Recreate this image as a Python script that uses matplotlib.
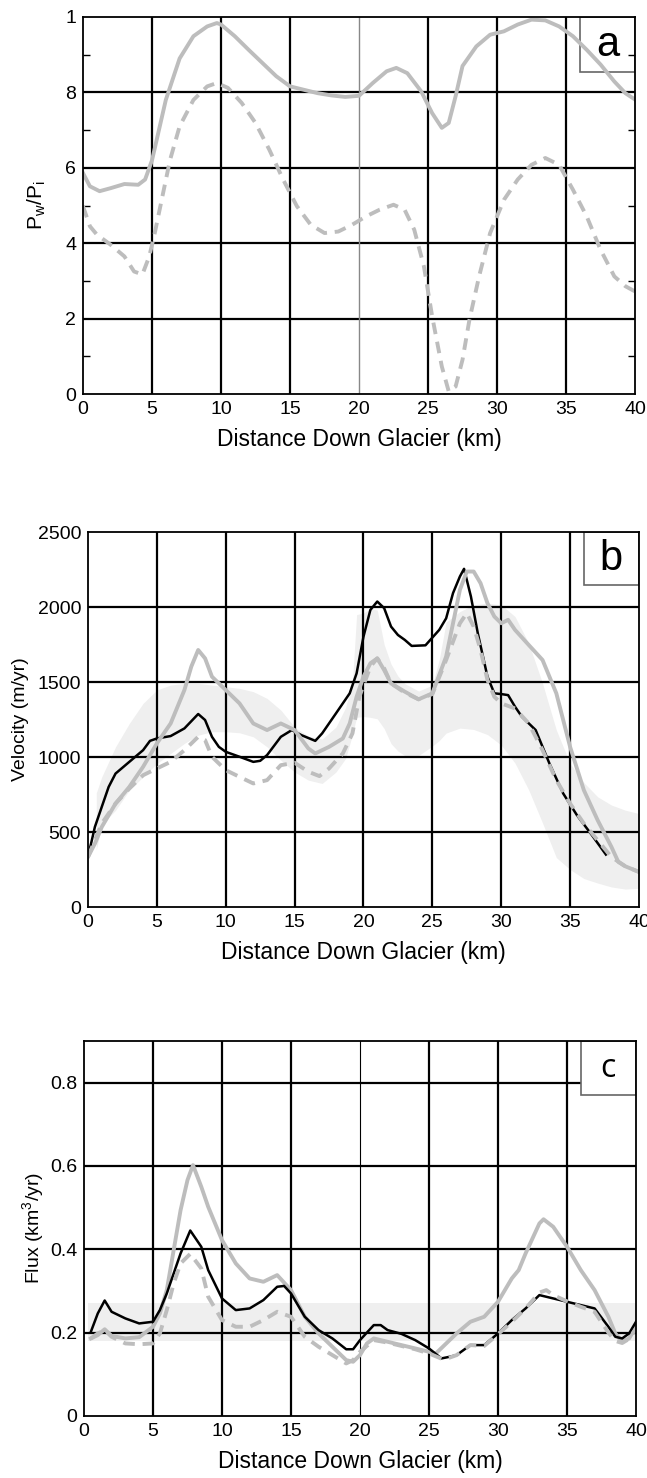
import matplotlib
matplotlib.use("Agg")
import matplotlib.pyplot as plt
from matplotlib.patches import Rectangle

plt.rcParams['font.family'] = ['Liberation Sans', 'DejaVu Sans']
plt.rcParams['mathtext.fontset'] = 'custom'
plt.rcParams['mathtext.rm'] = 'Liberation Sans'
plt.rcParams['mathtext.it'] = 'Liberation Sans'

# ---------------- Panel a: Pw/Pi ----------------
a_x_solid = [0, 0.5, 1.2, 2, 3, 4, 4.5, 5, 5.5, 6, 7, 8, 9, 9.7, 10, 11, 12, 13, 14, 15,
             16, 17, 18, 19, 20, 21, 22, 22.7, 23.5, 24.5, 25.3, 26, 26.5, 27, 27.5, 28.5,
             29.5, 30.5, 31.5, 32.5, 33.5, 34.5, 35.5, 36.5, 37.5, 38.5, 39.3, 40]
a_solid = [0.586, 0.551, 0.538, 0.546, 0.557, 0.555, 0.569, 0.62, 0.70, 0.78, 0.89, 0.949,
           0.975, 0.984, 0.98, 0.949, 0.913, 0.878, 0.843, 0.816, 0.807, 0.798, 0.792, 0.788,
           0.791, 0.825, 0.856, 0.865, 0.851, 0.803, 0.745, 0.706, 0.719, 0.79, 0.87, 0.922,
           0.953, 0.962, 0.98, 0.993, 0.991, 0.975, 0.949, 0.913, 0.874, 0.829, 0.798, 0.781]
a_x_dash = [0, 0.5, 1, 2, 3, 3.7, 4.3, 4.8, 5.2, 5.7, 6.3, 7, 8, 9, 9.7, 10.5, 11.5, 12.5,
            13.5, 14.5, 15.5, 16.5, 17.5, 18.5, 19.5, 20.5, 21.5, 22.5, 23.3, 24, 24.7, 25.3,
            26, 26.5, 27, 27.5, 28, 28.7, 29.5, 30.5, 31.5, 32.5, 33.5, 34.5, 35.5, 36.5,
            37.5, 38.5, 39.3, 40]
a_dash = [0.498, 0.445, 0.423, 0.396, 0.365, 0.325, 0.317, 0.365, 0.427, 0.515, 0.62, 0.71,
          0.78, 0.816, 0.825, 0.812, 0.772, 0.719, 0.648, 0.569, 0.498, 0.449, 0.427, 0.431,
          0.449, 0.471, 0.489, 0.502, 0.489, 0.436, 0.339, 0.206, 0.073, 0.007, 0.02, 0.091,
          0.197, 0.312, 0.427, 0.515, 0.569, 0.608, 0.626, 0.608, 0.542, 0.471, 0.383, 0.312,
          0.286, 0.272]
a_yticks = [0, 0.2, 0.4, 0.6, 0.8, 1.0]
a_yticklabels = ['0', '2', '4', '6', '8', '1']

# ---------------- Panel b: Velocity ----------------
b_x_black = [0, 0.5, 1, 1.5, 2, 3, 4, 4.5, 5, 6, 7, 8, 8.5, 9, 9.5, 10, 11, 12, 12.5, 13,
             14, 14.8, 15.5, 16.5, 17, 18, 19, 19.5, 20, 20.5, 21, 21.5, 22, 22.5, 23, 23.5,
             24.5, 25.5, 26, 26.5, 27, 27.3, 27.8, 28.3, 29, 29.5, 30, 30.5, 31, 31.5, 32.5,
             33.5, 34.5, 35.5, 36.5, 37.6]
b_black = [334, 534, 668, 801, 890, 968, 1046, 1108, 1124, 1140, 1191, 1287, 1247, 1135, 1068,
           1035, 1002, 968, 975, 1013, 1135, 1180, 1146, 1108, 1158, 1291, 1425, 1558, 1803,
           1981, 2037, 1993, 1870, 1814, 1781, 1741, 1745, 1848, 1925, 2093, 2204, 2255, 2070,
           1825, 1536, 1425, 1420, 1413, 1336, 1269, 1180, 957, 757, 612, 490, 350]
b_x_gray = [0, 0.5, 1, 2, 3, 4, 5, 6, 7, 7.5, 8, 8.5, 9, 10, 11, 12, 13, 14, 15, 16, 16.5,
            17.5, 18.5, 19, 19.5, 20, 20.5, 21, 21.5, 22, 23, 24, 25, 26, 26.5, 27, 27.5, 28,
            28.5, 29, 29.5, 30, 30.5, 31, 32, 33, 34, 35, 36, 37, 38, 38.5, 39, 40]
b_gray = [334, 423, 534, 690, 801, 935, 1091, 1224, 1447, 1603, 1714, 1658, 1536, 1447, 1358,
          1224, 1180, 1224, 1180, 1057, 1024, 1068, 1124, 1224, 1402, 1536, 1625, 1658, 1580,
          1491, 1436, 1385, 1425, 1670, 1892, 2115, 2237, 2237, 2159, 2026, 1937, 1892, 1915,
          1848, 1747, 1647, 1425, 1068, 779, 579, 401, 301, 272, 234]
b_x_dash = [0, 1, 2, 3, 4, 5, 6, 7, 8, 8.5, 9, 10, 11, 12, 13, 14, 15, 16, 16.8, 17.5, 18.5,
            19.2, 19.7, 20.5, 21, 21.5, 22, 23, 24, 25, 26, 27, 27.5, 28, 28.5, 29, 29.5, 30,
            31, 32, 33, 34, 35, 36, 37, 38, 39, 40]
b_dash = [334, 557, 690, 790, 879, 924, 968, 1046, 1135, 1113, 1002, 913, 868, 824, 846, 946,
          962, 902, 873, 924, 1024, 1158, 1402, 1603, 1658, 1592, 1491, 1429, 1385, 1420, 1647,
          1892, 1959, 1870, 1714, 1514, 1402, 1358, 1324, 1224, 1046, 846, 690, 557, 445, 334,
          272, 234]
b_band_x = [0.6, 1, 2, 3, 4, 5, 6, 7, 8, 9, 10, 11, 12, 13, 14, 15, 16, 17, 18, 18.7, 19.2,
            19.5, 20, 20.5, 21, 21.5, 22, 22.5, 23, 24, 25, 25.5, 26, 27, 28, 29, 30, 31, 32,
            33, 34, 35, 36, 37, 38, 39, 40]
b_band_hi = [760, 868, 1068, 1224, 1358, 1447, 1480, 1491, 1491, 1480, 1469, 1458, 1436, 1391,
             1313, 1200, 1140, 1120, 1200, 1330, 1500, 1950, 1960, 1990, 1980, 1750, 1620, 1540,
             1490, 1440, 1480, 1650, 1900, 1970, 2015, 2026, 2015, 1937, 1758, 1491, 1180, 957,
             830, 735, 680, 646, 623]
b_band_lo = [380, 550, 645, 779, 868, 957, 1024, 1091, 1146, 1169, 1169, 1162, 1135, 1068, 979,
             900, 846, 824, 900, 990, 1150, 1265, 1270, 1265, 1255, 1190, 1090, 1040, 1010, 1010,
             1073, 1110, 1160, 1193, 1184, 1150, 1080, 960, 780, 560, 330, 250, 190, 160, 134,
             120, 125]

# ---------------- Panel c: Flux ----------------
c_x_gray = [0.5, 1, 1.5, 2, 3, 4, 5, 5.5, 6, 6.5, 7, 7.5, 7.9, 8.5, 9, 10, 11, 12, 13, 14, 15,
            16, 17, 18, 19, 19.5, 20, 20.5, 21, 22, 23, 24, 25, 25.5, 26, 27, 28, 29, 30, 31,
            31.5, 32, 33, 33.3, 34, 35, 36, 37, 38, 38.5, 39, 39.5, 40]
c_gray = [0.186, 0.194, 0.208, 0.192, 0.186, 0.189, 0.214, 0.246, 0.302, 0.398, 0.494, 0.566,
          0.602, 0.55, 0.502, 0.422, 0.366, 0.33, 0.322, 0.338, 0.302, 0.238, 0.198, 0.166,
          0.134, 0.13, 0.146, 0.174, 0.186, 0.178, 0.17, 0.162, 0.154, 0.15, 0.166, 0.198,
          0.226, 0.238, 0.274, 0.33, 0.35, 0.39, 0.462, 0.472, 0.454, 0.406, 0.35, 0.302,
          0.238, 0.198, 0.178, 0.186, 0.214]
c_x_black = [0.5, 1, 1.5, 2, 3, 4, 5, 5.5, 6, 7, 7.7, 8.5, 9, 10, 11, 12, 13, 14, 14.5, 15, 16,
             17, 18, 19, 19.5, 20, 21, 21.5, 22, 23, 24, 25, 25.9, 26.5, 27, 28, 29, 30, 31, 32,
             33, 34, 35, 36, 37, 38, 38.5, 39, 39.5, 40]
c_black = [0.202, 0.246, 0.277, 0.25, 0.234, 0.222, 0.226, 0.254, 0.294, 0.39, 0.445, 0.406,
           0.35, 0.282, 0.254, 0.258, 0.278, 0.31, 0.312, 0.294, 0.238, 0.206, 0.186, 0.16,
           0.16, 0.182, 0.218, 0.218, 0.206, 0.197, 0.182, 0.162, 0.138, 0.142, 0.146, 0.17,
           0.17, 0.198, 0.23, 0.258, 0.29, 0.282, 0.274, 0.266, 0.258, 0.214, 0.19, 0.186,
           0.198, 0.226]
c_x_dash = [0.5, 1, 1.5, 2, 3, 4, 5, 5.5, 6, 6.5, 7, 7.7, 8.5, 9, 10, 11, 12, 13, 14, 15, 16,
            17, 18, 19, 19.5, 20, 21, 22, 23, 24, 25, 26, 26.5, 27, 28, 29, 30, 31, 32, 33,
            33.5, 34, 35, 36, 37, 38, 38.5, 39, 39.5, 40]
c_dash = [0.186, 0.198, 0.206, 0.19, 0.174, 0.172, 0.174, 0.198, 0.254, 0.318, 0.366, 0.389,
          0.354, 0.286, 0.23, 0.214, 0.214, 0.23, 0.25, 0.238, 0.19, 0.166, 0.146, 0.126, 0.134,
          0.154, 0.182, 0.176, 0.168, 0.16, 0.15, 0.136, 0.14, 0.146, 0.17, 0.168, 0.196, 0.226,
          0.258, 0.296, 0.302, 0.29, 0.275, 0.262, 0.25, 0.2, 0.18, 0.175, 0.185, 0.21]
c_band_x = [0.3, 40]
c_band_lo = [0.18, 0.18]
c_band_hi = [0.272, 0.272]

x_ticks = [0, 5, 10, 15, 20, 25, 30, 35, 40]

GRAY = '#bdbdbd'
BAND = '#efefef'
DASH = (0, (3, 2))
TICK_FS = 14
XLAB_FS = 16.5
YLAB_FS = 14

fig = plt.figure(figsize=(6.47, 14.78), dpi=100)
ax_a = fig.add_axes([0.1283, 0.7334, 0.8532, 0.2551])
ax_b = fig.add_axes([0.1360, 0.3863, 0.8516, 0.2537])
ax_c = fig.add_axes([0.1298, 0.0420, 0.8532, 0.2537])


def style(ax, ylim, yticks, ylabels, special20=None):
    ax.set_xlim(0, 40)
    ax.set_ylim(*ylim)
    ax.set_xticks(x_ticks)
    ax.set_xticklabels([str(t) for t in x_ticks], fontsize=TICK_FS)
    ax.set_yticks(yticks)
    ax.set_yticklabels(ylabels, fontsize=TICK_FS)
    ax.tick_params(direction='in', length=0, pad=5)
    for y in yticks[1:]:
        if y < ylim[1]:
            ax.axhline(y, color='k', lw=1.6, zorder=1)
    for t in x_ticks[1:-1]:
        if t == 20 and special20 is not None:
            ax.axvline(t, color=special20[0], lw=special20[1], zorder=1)
        else:
            ax.axvline(t, color='k', lw=1.6, zorder=1)
    for s in ax.spines.values():
        s.set_linewidth(1.3)
        s.set_zorder(5)
    ax.set_xlabel('Distance Down Glacier (km)', fontsize=XLAB_FS, labelpad=7)


def label_box(ax, x0, y0, x1, y1, txt, fam, fs):
    ax.add_patch(Rectangle((x0, y0), x1 - x0, y1 - y0, facecolor='white',
                           edgecolor='#666666', lw=1.2, zorder=1.5))
    ax.text((x0 + x1) / 2, (y0 + y1) / 2, txt, ha='center', va='center',
            fontsize=fs, family=fam, zorder=1.6)


# Panel a
style(ax_a, (0, 1), a_yticks, a_yticklabels, special20=('#888888', 1.0))
ax_a.set_yticks([0.1, 0.3, 0.5, 0.7, 0.9], minor=True)
ax_a.tick_params(which='minor', direction='in', length=5, width=1.0, left=True, right=True)
label_box(ax_a, 36.0, 0.853, 40, 1.0, 'a', ['Liberation Sans'], 30)
ax_a.plot(a_x_dash, a_dash, color=GRAY, lw=2.8, ls=DASH, zorder=3)
ax_a.plot(a_x_solid, a_solid, color=GRAY, lw=2.8, zorder=3)
ax_a.set_ylabel(r'P$_\mathregular{w}$/P$_\mathregular{i}$', fontsize=15, labelpad=12)

# Panel b
style(ax_b, (0, 2500), [0, 500, 1000, 1500, 2000, 2500],
      ['0', '500', '1000', '1500', '2000', '2500'])
ax_b.fill_between(b_band_x, b_band_lo, b_band_hi, color=BAND, lw=0, zorder=0.5)
label_box(ax_b, 36.0, 2147, 40, 2500, 'b', ['Liberation Sans'], 30)
ax_b.plot(b_x_black, b_black, color='k', lw=1.8, zorder=3)
ax_b.plot(b_x_dash, b_dash, color=GRAY, lw=2.8, ls=DASH, zorder=3.2)
ax_b.plot(b_x_gray, b_gray, color=GRAY, lw=2.8, zorder=3.1)
ax_b.set_ylabel('Velocity (m/yr)', fontsize=YLAB_FS, labelpad=6)

# Panel c
style(ax_c, (0, 0.9), [0, 0.2, 0.4, 0.6, 0.8], ['0', '0.2', '0.4', '0.6', '0.8'],
      special20=('k', 0.8))
ax_c.fill_between(c_band_x, c_band_lo, c_band_hi, color=BAND, lw=0, zorder=0.5)
label_box(ax_c, 36.0, 0.77, 40, 0.9, 'c', ['Open Sans', 'Liberation Sans'], 23)
ax_c.plot(c_x_gray, c_gray, color=GRAY, lw=2.8, zorder=3)
ax_c.plot(c_x_black, c_black, color='k', lw=1.8, zorder=3.1)
ax_c.plot(c_x_dash, c_dash, color=GRAY, lw=2.8, ls=DASH, zorder=3.2)
ax_c.set_ylabel(r'Flux (km$^\mathregular{3}$/yr)', fontsize=YLAB_FS, labelpad=3)

fig.savefig('out.png', dpi=100)
